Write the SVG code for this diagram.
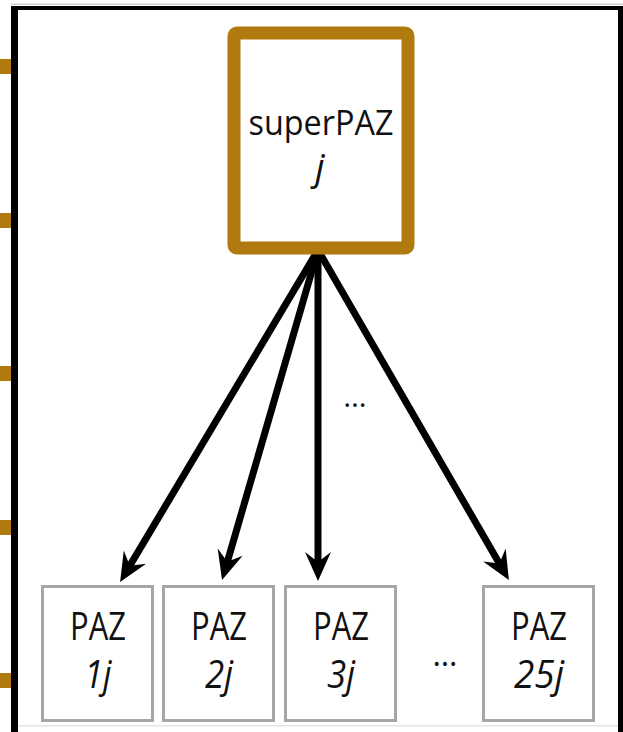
<svg xmlns="http://www.w3.org/2000/svg" width="623" height="732" viewBox="0 0 623 732">
  <style>
    .frame { fill: #000; }
    .stub { fill: #B07A0E; }
    .super { fill: #fff; stroke: #B07A0E; stroke-width: 13; }
    .paz { fill: #fff; stroke: #A6A6A6; stroke-width: 3; }
    .lbl { font-family: "Open Sans", "Noto Sans", sans-serif; fill: #111; text-anchor: middle; }
    .it { font-style: italic; }
    .arrow { stroke: #000; stroke-width: 7; fill: none; marker-end: url(#head); }
  </style>
  <defs>
    <!-- notched arrowhead, tip 17 units past the line end -->
    <marker id="head" markerUnits="userSpaceOnUse" markerWidth="29" markerHeight="26" refX="12" refY="13" orient="auto" overflow="visible">
      <path d="M0,0 L29,13 L0,26 L10,13 Z" fill="#000"/>
    </marker>
  </defs>

  <rect width="623" height="732" fill="#fff"/>

  <!-- outer frame -->
  <g id="frame">
    <rect x="11" y="3.5" width="612" height="1.5" fill="#cfcfcf"/>
    <rect x="11" y="725" width="607" height="1.5" fill="#e4e4e4"/>
    <rect class="frame" x="11" y="6" width="612" height="4"/>
    <rect class="frame" x="11" y="6" width="7" height="726"/>
    <rect class="frame" x="618" y="6" width="5" height="726"/>
    <rect class="stub" x="0" y="59" width="11" height="15"/>
    <rect class="stub" x="0" y="213" width="11" height="15"/>
    <rect class="stub" x="0" y="366" width="11" height="15"/>
    <rect class="stub" x="0" y="520" width="11" height="15"/>
    <rect class="stub" x="0" y="673" width="11" height="15"/>
  </g>

  <!-- connectors -->
  <g id="connectors">
    <line class="arrow" x1="318" y1="250" x2="128.8" y2="567.4"/>
    <line class="arrow" x1="318" y1="250" x2="226.8" y2="563.7"/>
    <line class="arrow" x1="318" y1="250" x2="318" y2="564"/>
    <line class="arrow" x1="318" y1="250" x2="500.4" y2="565.3"/>
    <text class="lbl" x="355" y="407" font-size="30">…</text>
  </g>

  <g id="superPAZ">
    <rect class="super" x="234" y="33" width="174" height="215" rx="3"/>
    <text class="lbl" x="321" y="135" font-size="34" textLength="145" lengthAdjust="spacingAndGlyphs">superPAZ</text>
    <text class="lbl it" x="320" y="180" font-size="37">j</text>
  </g>

  <g id="paz1">
    <rect class="paz" x="42.5" y="586.5" width="110" height="134"/>
    <text class="lbl" x="98" y="640" font-size="39" textLength="56" lengthAdjust="spacingAndGlyphs">PAZ</text>
    <text class="lbl it" x="98" y="688" font-size="38" textLength="27" lengthAdjust="spacingAndGlyphs">1j</text>
  </g>

  <g id="paz2">
    <rect class="paz" x="163.5" y="586.5" width="110" height="134"/>
    <text class="lbl" x="219" y="640" font-size="39" textLength="56" lengthAdjust="spacingAndGlyphs">PAZ</text>
    <text class="lbl it" x="219" y="688" font-size="38" textLength="28" lengthAdjust="spacingAndGlyphs">2j</text>
  </g>

  <g id="paz3">
    <rect class="paz" x="285.5" y="586.5" width="110" height="134"/>
    <text class="lbl" x="341" y="640" font-size="39" textLength="56" lengthAdjust="spacingAndGlyphs">PAZ</text>
    <text class="lbl it" x="341" y="688" font-size="38" textLength="28" lengthAdjust="spacingAndGlyphs">3j</text>
  </g>

  <text class="lbl" x="445" y="666" font-size="32">…</text>

  <g id="paz25">
    <rect class="paz" x="483.5" y="586.5" width="110" height="134"/>
    <text class="lbl" x="539" y="640" font-size="39" textLength="56" lengthAdjust="spacingAndGlyphs">PAZ</text>
    <text class="lbl it" x="539" y="688" font-size="38" textLength="50" lengthAdjust="spacingAndGlyphs">25j</text>
  </g>
</svg>
